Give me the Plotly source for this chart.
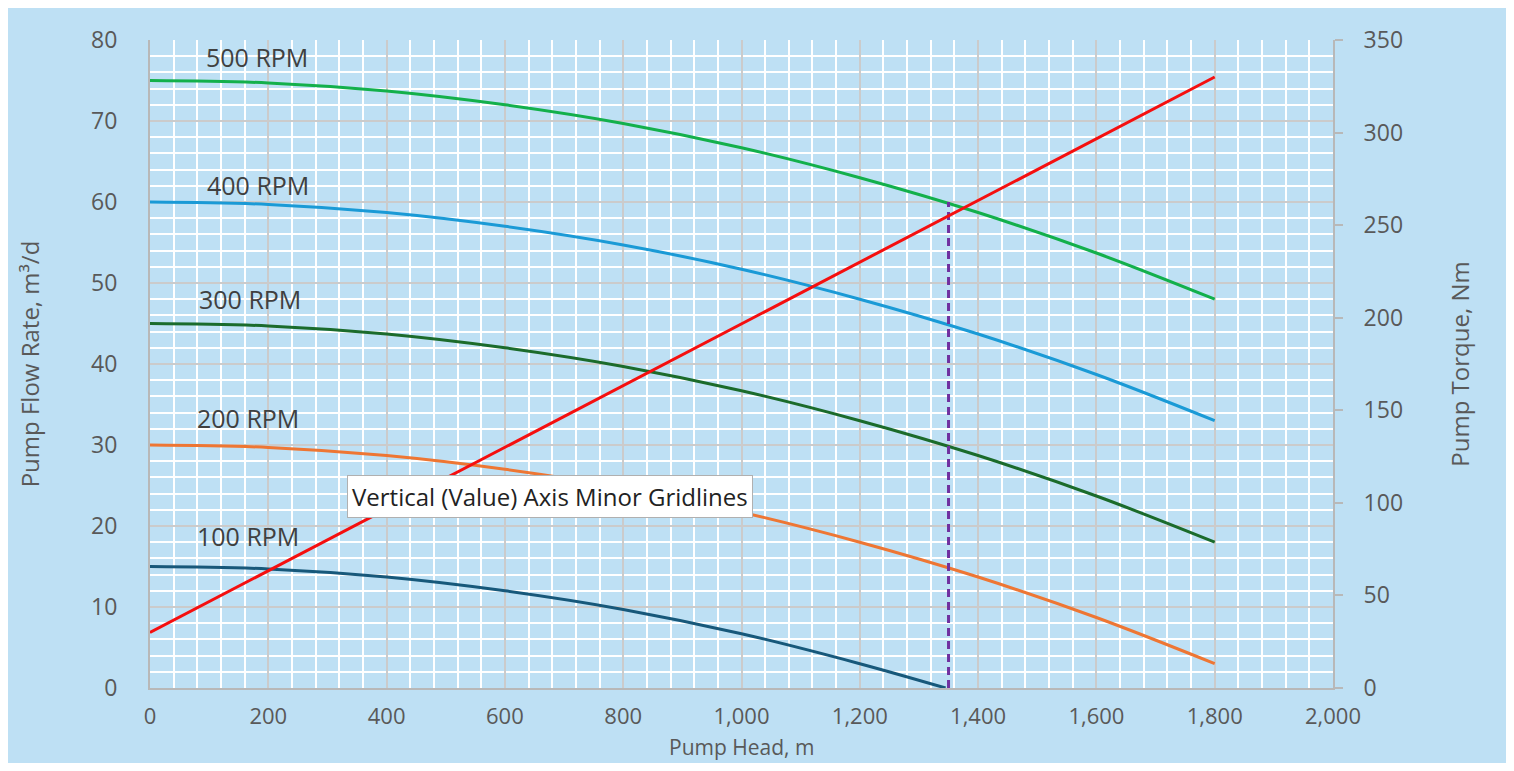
import plotly.graph_objects as go

# pump head, m
head = [0, 200, 400, 600, 800, 1000, 1200, 1400, 1600, 1800]
head_100 = [0, 200, 400, 600, 800, 1000, 1200, 1345]

# flow rate per speed, m3/d
q_500 = [75, 74.7, 73.7, 72.0, 69.7, 66.7, 63.0, 58.7, 53.7, 48]
q_400 = [60, 59.7, 58.7, 57.0, 54.7, 51.7, 48.0, 43.7, 38.7, 33]
q_300 = [45, 44.7, 43.7, 42.0, 39.7, 36.7, 33.0, 28.7, 23.7, 18]
q_200 = [30, 29.7, 28.7, 27.0, 24.7, 21.7, 18.0, 13.7, 8.7, 3]
q_100 = [15, 14.7, 13.7, 12.0, 9.7, 6.7, 3.0, 0]

# torque line, Nm
torque_head = [0, 1800]
torque = [30, 330]

# operating point marker
op_head = [1350, 1350]
op_flow = [0, 60]

labels = ["500 RPM", "400 RPM", "300 RPM", "200 RPM", "100 RPM"]
label_x = [181, 183, 169, 166, 166]
label_y = [77.9, 62.1, 48.0, 33.3, 18.8]

GRAY = "#595959"
FONT = "Open Sans"

fig = go.Figure()

curves = [
    (head, q_500, "#13b04b"),
    (head, q_400, "#1a9ad6"),
    (head, q_300, "#1b6b2b"),
    (head, q_200, "#ee7633"),
    (head_100, q_100, "#17587a"),
]
for name, (x, y, c) in zip(labels, curves):
    fig.add_trace(go.Scatter(x=x, y=y, mode="lines", name=name,
                             line=dict(color=c, width=3, shape="spline")))

fig.add_trace(go.Scatter(x=op_head, y=op_flow, mode="lines",
                         line=dict(color="#7030a0", width=3, dash="8px,5px")))

fig.add_trace(go.Scatter(x=torque_head, y=torque, mode="lines", yaxis="y2",
                         line=dict(color="#f50f0f", width=3)))

for t, x, y in zip(labels, label_x, label_y):
    fig.add_annotation(x=x, y=y, text=t, showarrow=False,
                       font=dict(family=FONT, size=25, color="#404040"))

fig.add_annotation(x=676, y=23.7, text="Vertical (Value) Axis Minor Gridlines",
                   showarrow=False, bgcolor="white", bordercolor="#b0b0b0",
                   borderwidth=1, borderpad=4,
                   font=dict(family=FONT, size=24, color="#222222"))

# x axis title
fig.add_annotation(x=0.5, y=-0.091, xref="paper", yref="paper",
                   yanchor="middle", text="Pump Head, m", showarrow=False,
                   font=dict(family=FONT, size=21, color=GRAY))

fig.update_layout(
    width=1498, height=755,
    margin=dict(l=142, r=173, t=32, b=75),
    paper_bgcolor="#bee0f4", plot_bgcolor="#bee0f4",
    showlegend=False,
    font=dict(family=FONT, size=23, color=GRAY),
    xaxis=dict(range=[0, 2000], dtick=200, tickformat=",d", automargin=False,
               tickfont=dict(size=22),
               showgrid=True, gridcolor="#cbcbcb", gridwidth=2,
               minor=dict(dtick=40, showgrid=True, gridcolor="white", gridwidth=2),
               showline=True, linecolor="#b8b8b8", linewidth=2,
               zeroline=False, ticks="", ticklabelstandoff=8),
    yaxis=dict(range=[0, 80], dtick=10, automargin=False,
               showgrid=True, gridcolor="#cbcbcb", gridwidth=2,
               minor=dict(dtick=2, showgrid=True, gridcolor="white", gridwidth=2),
               showline=True, linecolor="#b8b8b8", linewidth=2,
               zeroline=False, ticks="", ticklabelstandoff=26,
               title=dict(text="Pump Flow Rate, m³/d", standoff=45,
                          font=dict(family=FONT, size=24, color=GRAY))),
    yaxis2=dict(range=[0, 350], dtick=50, overlaying="y", side="right",
                showgrid=False, zeroline=False, automargin=False,
                showline=True, linecolor="#b8b8b8", linewidth=2,
                ticks="outside", ticklen=8, tickcolor="#b8b8b8", tickwidth=2,
                ticklabelstandoff=16,
                title=dict(text="Pump Torque, Nm", standoff=50,
                           font=dict(family=FONT, size=24, color=GRAY))),
)

fig.write_html("out.html")
